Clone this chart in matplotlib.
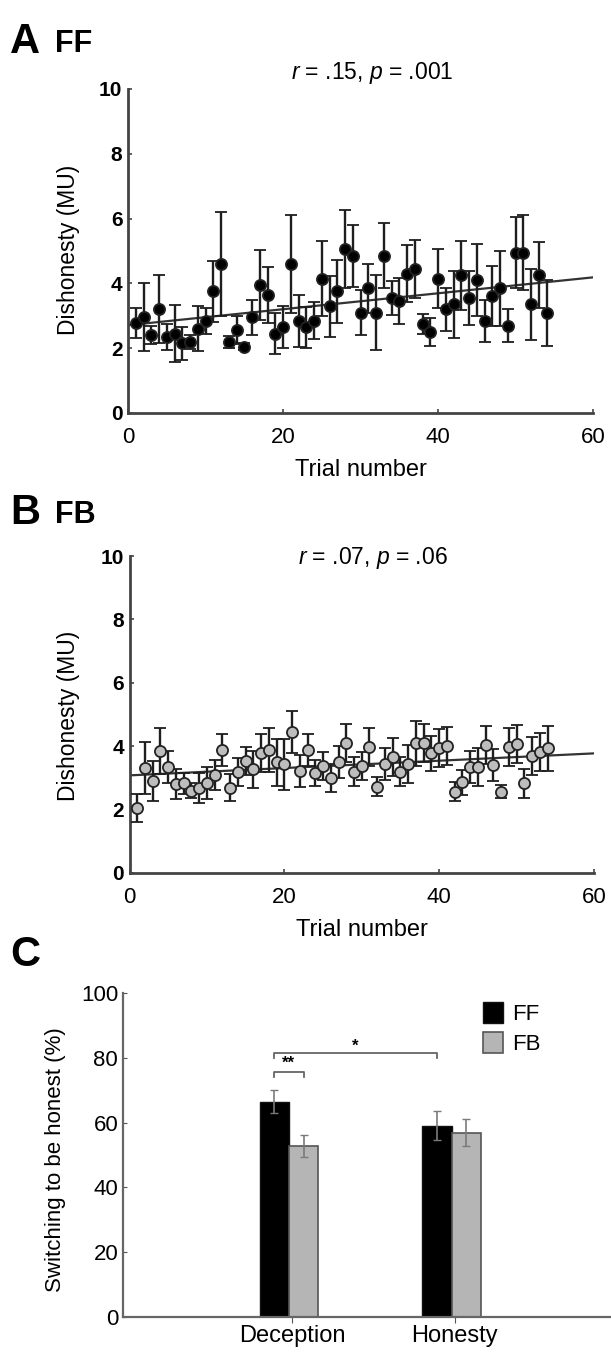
import numpy as np
import matplotlib
matplotlib.use("Agg")
import matplotlib.pyplot as plt
from matplotlib.patches import Patch

plt.rcParams['font.family'] = ['Liberation Sans', 'DejaVu Sans']
plt.rcParams['mathtext.fontset'] = 'custom'
plt.rcParams['mathtext.it'] = 'Liberation Sans:italic'

######### Data #########

trials = np.arange(1, 55)

# panel A (FF): mean dishonesty per trial and error
ff_mean = [2.78, 2.97, 2.4, 3.2, 2.35, 2.45, 2.15, 2.2, 2.6, 2.85,
           3.75, 4.6, 2.2, 2.55, 2.05, 2.95, 3.95, 3.65, 2.45, 2.65,
           4.6, 2.85, 2.65, 2.85, 4.15, 3.3, 3.75, 5.05, 4.85, 3.1,
           3.85, 3.1, 4.85, 3.55, 3.45, 4.3, 4.45, 2.75, 2.5, 4.15,
           3.2, 3.35, 4.25, 3.55, 4.1, 2.85, 3.6, 3.85, 2.7, 4.95,
           4.95, 3.35, 4.25, 3.1]
ff_err = [0.45, 1.05, 0.28, 1.05, 0.4, 0.88, 0.5, 0.22, 0.7, 0.4,
          0.93, 1.6, 0.18, 0.43, 0.12, 0.53, 1.08, 0.87, 0.64, 0.64,
          1.5, 0.8, 0.63, 0.58, 1.17, 0.94, 0.97, 1.2, 0.95, 0.7,
          0.76, 1.15, 1.0, 0.53, 0.71, 0.87, 0.9, 0.3, 0.43, 0.9,
          0.66, 1.03, 1.07, 0.83, 1.12, 0.65, 0.93, 1.15, 0.52, 1.1,
          1.15, 1.1, 1.02, 1.02]

# panel B (FB)
fb_mean = [2.05, 3.3, 2.9, 3.85, 3.35, 2.8, 2.83, 2.6, 2.67, 2.83,
           3.09, 3.88, 2.69, 3.18, 3.53, 3.27, 3.78, 3.88, 3.49, 3.43,
           4.45, 3.22, 3.88, 3.15, 3.38, 2.99, 3.51, 4.09, 3.2, 3.38,
           3.98, 2.72, 3.43, 3.65, 3.2, 3.44, 4.09, 4.11, 3.78, 3.93,
           4.0, 2.57, 2.86, 3.35, 3.35, 4.05, 3.4, 2.57, 3.98, 4.07,
           2.83, 3.7, 3.83, 3.93]
fb_err = [0.45, 0.82, 0.62, 0.72, 0.5, 0.47, 0.34, 0.24, 0.47, 0.5,
          0.47, 0.5, 0.42, 0.45, 0.45, 0.58, 0.6, 0.7, 0.74, 0.8,
          0.65, 0.5, 0.5, 0.4, 0.45, 0.45, 0.5, 0.6, 0.45, 0.45,
          0.6, 0.3, 0.5, 0.6, 0.45, 0.6, 0.7, 0.6, 0.55, 0.6,
          0.6, 0.3, 0.4, 0.5, 0.6, 0.6, 0.5, 0.2, 0.6, 0.6,
          0.45, 0.6, 0.6, 0.7]

# panel C: switching to be honest (%)
conditions = ["Deception", "Honesty"]
ff_switch = [66.5, 59.0]
ff_switch_err = [3.6, 4.5]
fb_switch = [52.8, 56.9]
fb_switch_err = [3.5, 4.2]

W, H = 611, 1352
fig = plt.figure(figsize=(W / 100, H / 100), dpi=100)
fig.patch.set_facecolor("white")

def px(l, t, r, b):
    # pixel box -> figure fraction
    return [l / W, 1 - b / H, (r - l) / W, (b - t) / H]

def trial_panel(box, mean, err, face, stats, stats_y):
    ax = fig.add_axes(px(*box))
    ax.errorbar(trials, mean, yerr=err, fmt="o", ms=8, mfc=face,
                mec="#222222", mew=1.3, ecolor="#1e1e1e", elinewidth=1.7,
                capsize=4, capthick=1.7, zorder=3)
    k, b0 = np.polyfit(trials, mean, 1)
    xx = np.array([0, 60])
    ax.plot(xx, b0 + k * xx, color="#333333", lw=1.6, zorder=2)
    ax.set_xlim(0, 60)
    ax.set_ylim(0, 10)
    ax.set_xticks([0, 20, 40, 60])
    ax.set_yticks([0, 2, 4, 6, 8, 10])
    for s in ["top", "right"]:
        ax.spines[s].set_visible(False)
    for s in ["left", "bottom"]:
        ax.spines[s].set_color("#444444")
        ax.spines[s].set_linewidth(2.0)
    ax.tick_params(direction="in", length=3, width=1.2, color="#444444")
    ax.tick_params(axis="x", labelsize=16, pad=10)
    ax.tick_params(axis="y", labelsize=15, pad=4)
    for t in ax.get_yticklabels():
        t.set_fontweight("bold")
    ax.set_xlabel("Trial number", fontsize=17, labelpad=8)
    ax.text(0.525, stats_y, stats, transform=ax.transAxes, ha="center",
            va="center", fontsize=16.5)
    ax.patch.set_alpha(0)
    return ax

axA = trial_panel((128, 89, 593, 413), ff_mean, ff_err, "black",
                  r"$r$ = .15, $p$ = .001", 1.05)
axB = trial_panel((129.5, 556, 594, 873), fb_mean, fb_err, "#bdbdbd",
                  r"$r$ = .07, $p$ = .06", 0.995)

fig.text(68 / W, 1 - 250 / H, "Dishonesty (MU)", rotation=90,
         ha="center", va="center", fontsize=16.5)
fig.text(68 / W, 1 - 716 / H, "Dishonesty (MU)", rotation=90,
         ha="center", va="center", fontsize=16.5)

fig.text(10 / W, 1 - 42 / H, "A", fontsize=30, fontweight="bold", va="center")
fig.text(55 / W, 1 - 44 / H, "FF", fontsize=22, fontweight="bold", va="center")
fig.text(10 / W, 1 - 513 / H, "B", fontsize=30, fontweight="bold", va="center")
fig.text(55 / W, 1 - 515 / H, "FB", fontsize=22, fontweight="bold", va="center")
fig.text(10 / W, 1 - 955 / H, "C", fontsize=30, fontweight="bold", va="center")

######### Panel C #########

axC = fig.add_axes(px(123, 993, 611, 1317))
pos = np.array([1, 2])
bw = 0.18
axC.bar(pos - bw / 2, ff_switch, bw, color="black", edgecolor="#111111",
        lw=1, label="FF", zorder=2)
axC.bar(pos + bw / 2, fb_switch, bw, color="#b5b5b5", edgecolor="#555555",
        lw=1.2, label="FB", zorder=2)
axC.errorbar(pos - bw / 2, ff_switch, yerr=ff_switch_err, fmt="none",
             ecolor="#7a7a7a", elinewidth=1.2, capsize=3, zorder=3)
axC.errorbar(pos + bw / 2, fb_switch, yerr=fb_switch_err, fmt="none",
             ecolor="#7a7a7a", elinewidth=1.2, capsize=3, zorder=3)
axC.set_xlim(-0.02, 2.98)
axC.set_ylim(0, 100)
axC.set_xticks(pos + 0.02)
axC.set_xticklabels(conditions, fontsize=17)
axC.set_yticks(range(0, 101, 20))
axC.tick_params(axis="y", labelsize=16, direction="in", length=3,
                color="#555555")
axC.tick_params(axis="x", direction="out", length=4, color="#555555", pad=2)
for s in ["top", "right"]:
    axC.spines[s].set_visible(False)
for s in ["left", "bottom"]:
    axC.spines[s].set_color("#666666")
    axC.spines[s].set_linewidth(1.6)
fig.text(55 / W, 1 - 1160 / H, "Switching to be honest (%)", rotation=90,
         ha="center", va="center", fontsize=16)

# significance brackets
x1, x2 = pos[0] - bw / 2, pos[1] - bw / 2
axC.plot([x1, x1, x2, x2], [79.8, 81.4, 81.4, 79.8], color="#666666", lw=1.3)
axC.text((x1 + x2) / 2, 83.5, "*", ha="center", va="center", fontsize=12,
         fontweight="bold")
x3, x4 = pos[0] - bw / 2, pos[0] + bw / 2
axC.plot([x3, x3, x4, x4], [74.0, 75.5, 75.5, 74.0], color="#666666", lw=1.3)
axC.text((x3 + x4) / 2, 78.2, "**", ha="center", va="center", fontsize=12,
         fontweight="bold")

handles = [Patch(facecolor="black", edgecolor="#111111", label="FF"),
           Patch(facecolor="#b5b5b5", edgecolor="#555555", lw=1.2, label="FB")]
axC.legend(handles=handles, loc="upper left", bbox_to_anchor=(0.72, 1.0),
           frameon=False, fontsize=16, handlelength=0.9, handleheight=1.1,
           handletextpad=0.4, labelspacing=0.3, borderaxespad=0)

fig.savefig("out.png", dpi=100, facecolor="white")
